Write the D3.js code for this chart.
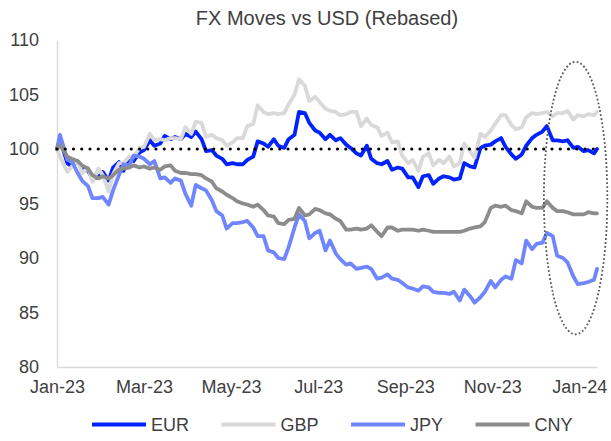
<!DOCTYPE html>
<html>
<head>
<meta charset="utf-8">
<script src="https://cdn.jsdelivr.net/npm/d3@7"></script>
<style>
  html, body { margin: 0; padding: 0; background: #ffffff; }
  svg { display: block; }
  text { font-family: "Liberation Sans", Arial, sans-serif; fill: #404040; }
</style>
</head>
<body>
<svg id="chart" width="611" height="441"></svg>
<script>
// Observation dates (twice-weekly) from 31-Jan-2023 to 01-Feb-2024
const dates = [
  "2023-01-31","2023-02-02","2023-02-07","2023-02-10","2023-02-14","2023-02-17","2023-02-21","2023-02-24",
  "2023-02-28","2023-03-03","2023-03-07","2023-03-10","2023-03-14","2023-03-17","2023-03-21","2023-03-24",
  "2023-03-28","2023-03-31","2023-04-04","2023-04-07","2023-04-11","2023-04-14","2023-04-18","2023-04-21",
  "2023-04-25","2023-04-28","2023-05-02","2023-05-05","2023-05-09","2023-05-12","2023-05-16","2023-05-19",
  "2023-05-23","2023-05-26","2023-05-30","2023-06-02","2023-06-06","2023-06-09","2023-06-13","2023-06-16",
  "2023-06-20","2023-06-23","2023-06-27","2023-06-30","2023-07-04","2023-07-07","2023-07-11","2023-07-14",
  "2023-07-18","2023-07-21","2023-07-25","2023-07-28","2023-08-01","2023-08-04","2023-08-08","2023-08-11",
  "2023-08-15","2023-08-18","2023-08-22","2023-08-25","2023-08-29","2023-09-01","2023-09-05","2023-09-08",
  "2023-09-12","2023-09-15","2023-09-19","2023-09-22","2023-09-26","2023-09-29","2023-10-03","2023-10-06",
  "2023-10-10","2023-10-13","2023-10-17","2023-10-20","2023-10-24","2023-10-27","2023-10-31","2023-11-03",
  "2023-11-07","2023-11-10","2023-11-14","2023-11-17","2023-11-21","2023-11-24","2023-11-28","2023-12-01",
  "2023-12-05","2023-12-08","2023-12-12","2023-12-15","2023-12-19","2023-12-22","2023-12-26","2023-12-29",
  "2024-01-02","2024-01-05","2024-01-09","2024-01-12","2024-01-16","2024-01-19","2024-01-23","2024-01-26",
  "2024-01-30","2024-02-01"
];

// Each currency vs USD, rebased to 100 on the first date
const eur = [
  100.0,100.9,98.7,98.4,98.9,98.3,98.0,97.3,97.4,97.9,97.1,98.3,98.8,98.0,99.1,98.9,
  99.7,99.9,100.8,100.3,100.5,101.2,100.9,101.1,100.9,101.4,101.1,101.6,100.9,99.8,99.9,99.4,
  99.1,98.6,98.7,98.6,98.6,99.0,99.3,100.7,100.5,100.2,100.9,100.3,100.1,100.9,101.3,103.4,
  103.3,102.4,101.7,101.5,100.9,101.3,100.8,101.0,100.4,100.1,99.6,99.4,100.3,99.1,98.7,98.6,
  98.9,98.1,98.3,98.2,97.4,97.4,96.5,97.5,97.6,96.8,97.3,97.5,97.4,97.2,97.3,98.7,
  98.4,98.3,100.1,100.3,100.4,100.7,101.0,100.2,99.5,99.1,99.5,100.3,101.0,101.3,101.6,102.1,
  100.8,100.8,100.7,100.8,100.1,100.2,99.8,99.9,99.6,100.0
];
const gbp = [
  100.0,99.3,97.9,98.4,98.9,97.8,98.3,97.0,98.2,97.6,96.1,97.7,98.7,98.7,99.3,99.3,
  100.1,100.2,101.4,100.8,100.9,100.8,101.0,101.0,100.9,102.0,101.4,102.5,102.4,101.1,101.3,101.0,
  100.8,100.3,100.6,101.0,101.0,102.1,102.3,104.0,103.4,103.2,103.3,103.2,103.3,104.1,105.0,106.4,
  105.8,104.4,104.8,104.3,103.7,103.5,103.4,103.1,103.2,103.4,103.4,102.1,102.8,102.2,102.0,101.2,
  101.5,100.6,100.7,99.4,98.7,99.0,98.0,99.3,99.6,98.5,99.0,98.7,99.3,98.4,98.7,100.5,
  99.8,99.2,101.4,101.1,101.7,102.3,103.1,103.1,102.2,101.8,102.0,102.9,103.3,103.2,103.3,103.4,
  103.0,103.3,103.3,103.5,102.7,103.1,103.0,103.2,103.1,103.4
];
const jpy = [
  100.0,101.3,99.0,98.9,97.8,97.1,96.6,95.5,95.5,95.6,94.9,96.2,97.6,98.6,98.5,99.4,
  99.3,99.1,98.6,98.9,97.3,97.4,96.9,97.3,97.1,95.9,94.8,96.7,96.4,96.2,95.3,94.3,
  93.9,92.7,93.2,93.2,93.3,93.4,92.8,92.0,92.0,90.7,90.5,90.0,89.9,91.0,92.8,94.0,
  93.4,91.8,92.3,92.5,90.7,91.6,90.4,89.9,89.4,89.5,89.0,89.1,89.2,89.0,88.1,88.2,
  88.5,88.1,88.0,87.7,87.3,87.2,87.0,87.4,87.3,86.9,86.8,86.8,86.7,86.9,86.1,87.1,
  86.5,85.9,86.4,86.9,87.9,87.3,88.0,88.3,88.1,89.8,89.5,91.6,90.8,91.3,91.4,92.3,
  92.0,90.2,90.0,89.6,88.3,87.6,87.7,87.8,88.0,89.0
];
const cny = [
  100.0,100.4,99.3,99.1,98.9,98.5,98.2,97.6,97.3,97.5,97.3,97.6,98.1,98.2,98.3,98.5,
  98.3,98.4,98.2,98.3,98.1,98.4,98.5,98.0,97.8,97.8,97.7,97.7,97.6,97.3,97.0,96.4,
  96.1,95.8,95.5,95.2,95.0,94.9,94.7,94.9,94.4,93.9,93.8,93.2,93.1,93.5,93.6,94.6,
  93.9,94.0,94.5,94.4,94.1,94.0,93.6,93.4,92.6,92.6,92.7,92.6,92.7,93.0,92.4,92.0,
  92.8,92.8,92.5,92.6,92.6,92.6,92.5,92.6,92.5,92.4,92.4,92.4,92.4,92.4,92.4,92.5,
  92.7,92.8,92.9,93.3,94.6,94.8,94.7,94.8,94.4,94.3,94.1,95.2,94.7,94.6,94.6,95.2,
  94.6,94.3,94.3,94.2,94.0,94.0,94.0,94.2,94.1,94.1
];

const seriesNames = ["EUR", "GBP", "JPY", "CNY"];
const seriesValues = [eur, gbp, jpy, cny];
const seriesColors = ["#0022ff", "#d9d9d9", "#6f86ff", "#8c8c8c"];

// Axis labels: every 42nd trading day, formatted mmm-yy
const tickDates = ["2023-01-31","2023-03-31","2023-05-29","2023-07-27","2023-09-24","2023-11-22","2024-01-20"];
const yTicks = [80, 85, 90, 95, 100, 105, 110];
const baseline = 100;

// Highlighted window at the end of the series (date range × value range)
const highlightDates = ["2023-12-27", "2024-02-08"];
const highlightValues = [83, 108];

const parse = d3.timeParse("%Y-%m-%d");
const fmt = d3.timeFormat("%b-%y");

const svg = d3.select("#chart");
const W = 611, H = 441;
const margin = { top: 40, right: 14, bottom: 74, left: 57 };
const plotR = W - margin.right, plotB = H - margin.bottom;

const x = d3.scaleTime()
  .domain([parse(dates[0]), parse(dates[dates.length - 1])])
  .range([margin.left, plotR]);
const y = d3.scaleLinear().domain([80, 110]).range([plotB, margin.top]);

// Title
svg.append("text")
  .attr("x", 327).attr("y", 25)
  .attr("text-anchor", "middle")
  .style("font-size", "20px")
  .text("FX Moves vs USD (Rebased)");

// Axes
const yAxis = d3.axisLeft(y).tickValues(yTicks).tickSize(0).tickPadding(18);
const gy = svg.append("g").attr("transform", `translate(${margin.left},0)`).call(yAxis);
gy.select(".domain").attr("stroke", "#d9d9d9").attr("stroke-width", 1.3);
gy.selectAll("text").style("font-size", "18px").attr("fill", "#404040");

const xAxis = d3.axisBottom(x).tickValues(tickDates.map(parse)).tickFormat(fmt).tickSize(0).tickPadding(13);
const gx = svg.append("g").attr("transform", `translate(0,${plotB})`).call(xAxis);
gx.select(".domain").attr("stroke", "#d9d9d9").attr("stroke-width", 1.3);
gx.selectAll("text").style("font-size", "18px").attr("fill", "#404040");

// Series lines
const line = d3.line()
  .x((d, i) => x(parse(dates[i])))
  .y(d => y(d));

svg.append("g").selectAll("path")
  .data(seriesValues)
  .join("path")
  .attr("d", d => line(d))
  .attr("fill", "none")
  .attr("stroke", (d, i) => seriesColors[i])
  .attr("stroke-width", 3.8)
  .attr("stroke-linejoin", "round")
  .attr("stroke-linecap", "round");

// Dotted reference line at 100
svg.append("line")
  .attr("x1", x(parse(dates[0]))).attr("x2", x(parse(dates[dates.length - 1])))
  .attr("y1", y(baseline)).attr("y2", y(baseline))
  .attr("stroke", "#000000")
  .attr("stroke-width", 3.2)
  .attr("stroke-linecap", "round")
  .attr("stroke-dasharray", "0,8.25");

// Dotted ellipse around the latest period
const ex0 = x(parse(highlightDates[0])), ex1 = x(parse(highlightDates[1]));
const ey0 = y(highlightValues[1]), ey1 = y(highlightValues[0]);
svg.append("ellipse")
  .attr("cx", (ex0 + ex1) / 2).attr("cy", (ey0 + ey1) / 2)
  .attr("rx", (ex1 - ex0) / 2).attr("ry", (ey1 - ey0) / 2)
  .attr("fill", "none")
  .attr("stroke", "#595959")
  .attr("stroke-width", 1.8)
  .attr("stroke-dasharray", "1.8,2.2");

// Legend
const legend = svg.append("g").attr("transform", `translate(92,${H - 10})`);
let lx = 0;
seriesNames.forEach((name, i) => {
  const g = legend.append("g").attr("transform", `translate(${lx},0)`);
  g.append("line")
    .attr("x1", 0).attr("x2", 54)
    .attr("y1", -6.5).attr("y2", -6.5)
    .attr("stroke", seriesColors[i])
    .attr("stroke-width", 4);
  const t = g.append("text")
    .attr("x", 59).attr("y", 0)
    .style("font-size", "18px")
    .text(name);
  lx += 59 + t.node().getComputedTextLength() + 32.5;
});
</script>
</body>
</html>
